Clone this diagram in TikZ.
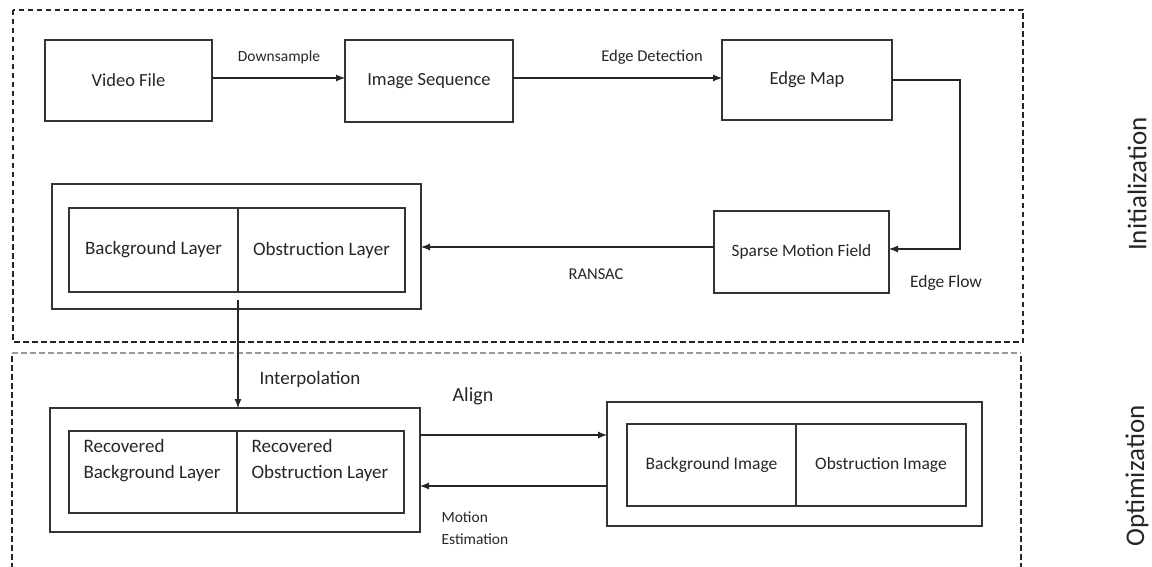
\documentclass[tikz,border=0pt]{standalone}
\usepackage{fontspec}
\setmainfont{Carlito}
\usetikzlibrary{calc,arrows.meta}

\newcommand{\fs}[1]{\fontsize{#1}{#1}\selectfont}

\begin{document}
\begin{tikzpicture}[x=1pt,y=-1pt,
  line width=1.1pt,
  box/.style={draw=black!80, rectangle, inner sep=0pt, outer sep=0pt,
              text=black!85, font=\fs{18.5}},
  cell/.style={box, font=\fs{19}},
  lbl/.style={text=black!85, inner sep=0pt, font=\fs{15.5}},
  arr/.style={draw=black!85, -{Latex[length=9pt,width=7pt]}},
  section/.style={draw=black!85, dash pattern=on 5.5pt off 3.5pt, line width=1.1pt},
  sectiontitle/.style={text=black!85, inner sep=0pt, rotate=90, font=\fs{27}}
]
\useasboundingbox (0,0) rectangle (1152,567);
\clip (0,0) rectangle (1152,567);

% ---- dashed stage frames ----
\draw[section] (13,10) rectangle (1023,342);
\draw[section, draw=black!40, line width=1.6pt] (12,353) -- (1021,353);
\draw[section] (12,356) -- (12,590);
\draw[section] (1021,356) -- (1021,590);

% ---- initialization stage ----
\node[box, minimum width=167pt, minimum height=81pt] (video)  at (128.5,80.5) {Video File};
\node[box, minimum width=168pt, minimum height=82pt] (imgseq) at (429,81)     {Image Sequence};
\node[box, minimum width=170pt, minimum height=80pt] (edgemap) at (807,80)    {Edge Map};
\node[box, minimum width=175pt, minimum height=82pt, font=\fs{17.3}] (sparse) at (801.5,252) {Sparse Motion Field};

\node[box, minimum width=369pt, minimum height=125pt] (layers) at (236.5,246.5) {};
\node[cell, minimum width=169pt, minimum height=84pt] (bg) at (153.5,250) {Background Layer};
\node[cell, minimum width=167pt, minimum height=84pt] (ob) at (321.5,250) {Obstruction Layer};

\draw[arr] (video.east |- 0,78) -- (imgseq.west |- 0,78);
\node[lbl] (downsample) at (279,57) {Downsample};
\draw[arr] (imgseq.east |- 0,78) -- (edgemap.west |- 0,78);
\node[lbl, font=\fs{16.5}] (edgedet) at (652,57) {Edge Detection};

\coordinate (flowturn) at (960,80);
\draw[arr] (edgemap.east |- flowturn) -- (flowturn) -- (flowturn |- 0,249) -- (sparse.east |- 0,249);
\node[lbl, font=\fs{17.5}] (edgeflow) at (946,283) {Edge Flow};

\draw[arr] (sparse.west |- 0,247) -- (layers.east |- 0,247);
\node[lbl, font=\fs{16.5}] (ransac) at (596,274) {RANSAC};

\node[sectiontitle] (init) at (1137,184) {Initialization};

% ---- optimization stage ----
\node[box, minimum width=370pt, minimum height=124pt] (recovered) at (235,470) {};
\node[cell, minimum width=168pt, minimum height=82pt] (rbg) at (153,472) {};
\node[cell, minimum width=167pt, minimum height=82pt] (rob) at (320.5,472) {};
\node[lbl, font=\fs{19}, anchor=north west, align=left] (rbgtext) at (83,439) {Recovered\\[7pt]Background Layer};
\node[lbl, font=\fs{19}, anchor=north west, align=left] (robtext) at (251,439) {Recovered\\[7pt]Obstruction Layer};

\node[box, minimum width=375pt, minimum height=124pt] (images) at (794.5,464) {};
\node[cell, minimum width=169pt, minimum height=82pt, font=\fs{17.5}] (bgimg) at (711.5,465) {Background Image};
\node[cell, minimum width=170pt, minimum height=82pt, font=\fs{17.5}] (obimg) at (881,465) {Obstruction Image};

\draw[arr] ($(bg.south east)+(0,8)$) -- (bg.south east |- recovered.north);
\node[lbl, font=\fs{19}] (interp) at (310,379) {Interpolation};

\coordinate (alignrow) at (0,435);
\coordinate (motionrow) at (0,486);
\draw[arr] (recovered.east |- alignrow) -- (images.west |- alignrow);
\node[lbl, font=\fs{20}] (align) at (473,396) {Align};
\draw[arr] (images.west |- motionrow) -- (recovered.east |- motionrow);
\node[lbl, anchor=west, align=left] (motion) at (441,528) {Motion\\[6pt]Estimation};

\node[sectiontitle] (opt) at (1137,476) {Optimization};
\end{tikzpicture}
\end{document}
